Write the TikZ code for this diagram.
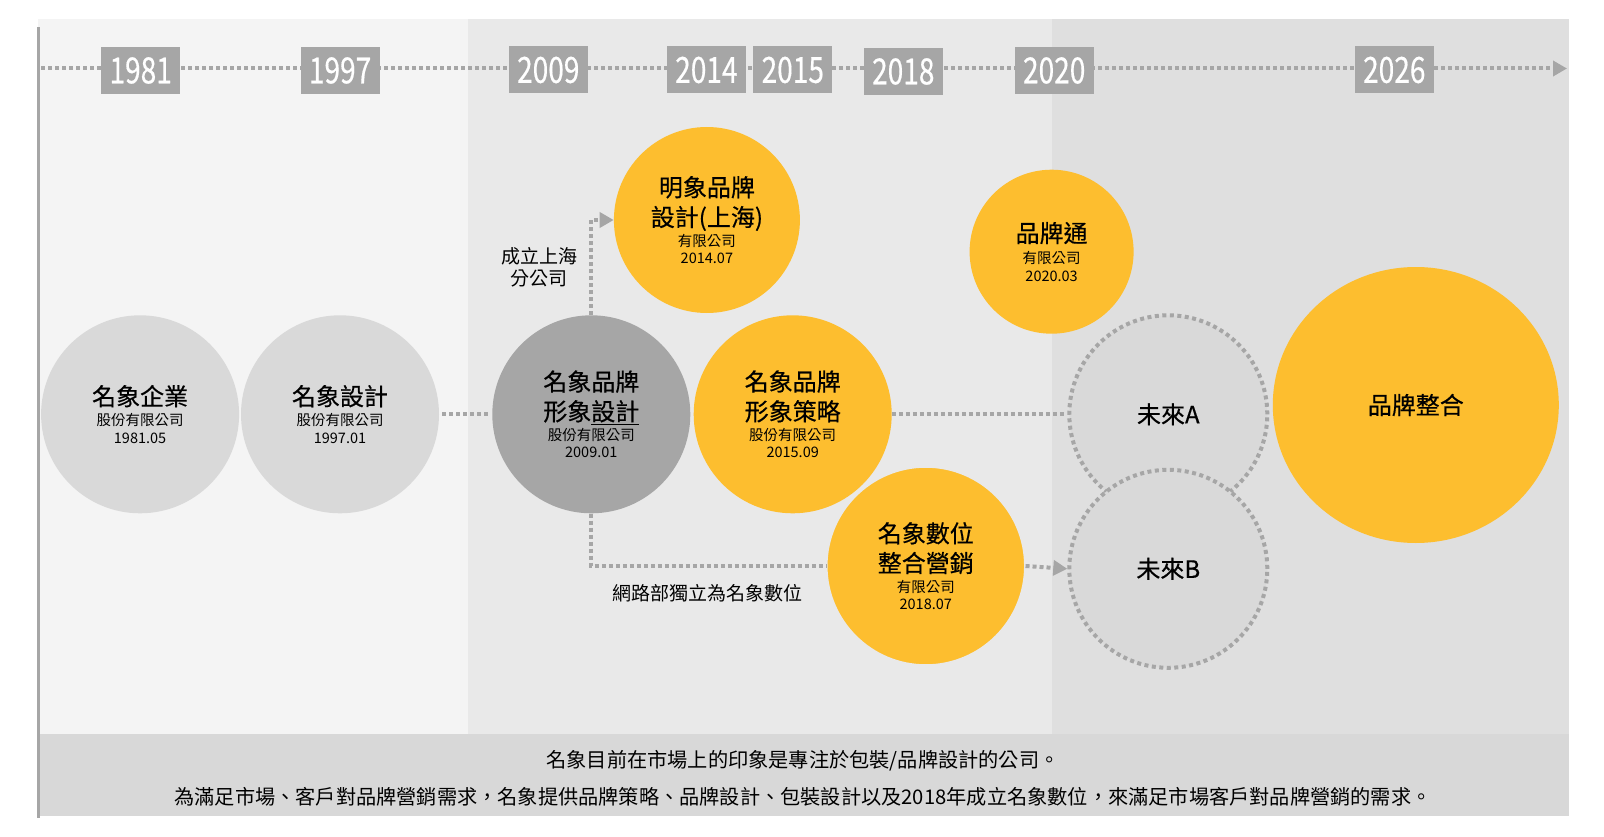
\documentclass[tikz,border=0pt]{standalone}
\usepackage{fontspec}
\setmainfont{Noto Sans CJK TC}
\newfontfamily\ttlfont{Noto Sans CJK TC}[FakeBold=0.5]
\usepackage{graphicx}
\usetikzlibrary{arrows.meta, positioning, shapes.geometric, calc}

\definecolor{paneA}{HTML}{F4F4F4}
\definecolor{paneB}{HTML}{E9E9E9}
\definecolor{paneC}{HTML}{DFDFDF}
\definecolor{bandgray}{HTML}{D8D8D8}
\definecolor{tagray}{HTML}{A6A6A6}
\definecolor{pale}{HTML}{D9D9D9}
\definecolor{gold}{HTML}{FDBE2F}

\newcommand{\ttl}[1]{{\ttlfont\fontsize{24}{30}\selectfont #1}}
\newcommand{\yr}[1]{\scalebox{0.78}[1]{#1}}

\begin{document}
\begin{tikzpicture}[
    x=1pt, y=-1pt,
    font          = \fontsize{14.5}{17.5}\selectfont,
    yearbox/.style = {fill=tagray, text=white, minimum width=79pt,
                      minimum height=47pt, inner sep=0pt,
                      font=\ttlfont\fontsize{36}{36}\selectfont},
    firm/.style   = {circle, minimum size=198pt, inner sep=0pt,
                     align=center},
    future/.style = {firm, fill=pale, draw=tagray, line width=4pt,
                     dash pattern=on 4pt off 3.5pt},
    link/.style   = {draw=tagray, line width=4pt, dash pattern=on 4pt off 3pt},
    arr/.style    = {link, -{Triangle[length=14pt, width=15pt]}},
    note/.style   = {align=center, font=\fontsize{19}{22}\selectfont},
  ]
  \useasboundingbox (0,0) rectangle (1604,837);
  % background panels
  \fill[paneA] (38,19.5) rectangle (467.5,734);
  \fill[paneB] (467.5,19.5) rectangle (1051.5,734);
  \fill[paneC] (1051.5,19.5) rectangle (1569,734);
  \fill[bandgray] (38,733.5) rectangle (1569,815.5);
  \draw[tagray, line width=3pt] (38.5,27.5) -- (38.5,818);

  % timeline
  \coordinate (tstart) at (41,68.5);
  \coordinate (tend) at (1567,68.5);
  \draw[arr] (tstart) -- (tend);
  \node[yearbox] (y1981) at (140.7,70.5) {\yr{1981}};
  \node[yearbox] (y1997) at (340.1,70.5) {\yr{1997}};
  \node[yearbox] (y2009) at (548.3,70) {\yr{2009}};
  \node[yearbox] (y2014) at (706.4,70) {\yr{2014}};
  \node[yearbox] (y2015) at (792.8,70) {\yr{2015}};
  \node[yearbox] (y2018) at (903.3,71.5) {\yr{2018}};
  \node[yearbox] (y2020) at (1054.2,70.5) {\yr{2020}};
  \node[yearbox] (y2026) at (1394.3,70) {\yr{2026}};

  % companies
  \node[firm, fill=pale] (c1981) at (140.1,414.3)
    {\ttl{名象企業}\\[3pt] 股份有限公司\\ 1981.05};
  \node[firm, fill=pale, right=1.5pt of c1981] (c1997)
    {\ttl{名象設計}\\[3pt] 股份有限公司\\ 1997.01};
  \node[firm, fill=tagray] (c2009) at (591.3,414.3)
    {\ttl{名象品牌}\\[6.5pt] \ttl{形象\underline{設計}}\\[2.5pt] 股份有限公司\\ 2009.01};
  \node[firm, fill=gold, right=3pt of c2009] (c2015)
    {\ttl{名象品牌}\\[6.5pt] \ttl{形象策略}\\[2.5pt] 股份有限公司\\ 2015.09};
  \node[firm, fill=gold, minimum size=186pt] (cSH) at (706.9,220)
    {\ttl{明象品牌}\\[6.5pt] \ttl{設計(上海)}\\[2.5pt] 有限公司\\ 2014.07};
  \node[future] (cA) at (1168.3,414.3) {\ttl{未來A}};
  \node[future] (cB) at (1168.3,568.8) {\ttl{未來B}};
  \node[firm, fill=gold, minimum size=164pt] (cBT) at (1051.6,251.7)
    {\ttl{品牌通}\\[4pt] 有限公司\\ 2020.03};
  \node[firm, fill=gold, draw=paneB, line width=1.5pt] (cDG) at (925.8,566)
    {\ttl{名象數位}\\[6.5pt] \ttl{整合營銷}\\[2.5pt] 有限公司\\ 2018.07};
  \node[ellipse, fill=gold, minimum width=286pt, minimum height=276pt,
        inner sep=0pt] (cBI) at (1415.8,405) {\ttl{品牌整合}};

  % links
  \draw[link, shorten <=3pt, shorten >=3pt] (c1997) -- (c2009);
  \draw[link, shorten >=3pt] (c2015) -- (cA);
  \draw[arr] (c2009.north) |- (cSH.west);
  \draw[link] (c2009.south) |- (cDG.west);
  \draw[arr] (cDG.east) -- (cB.west);
  \node[note] (lblSH) at (539,267) {成立上海\\分公司};
  \node[note] (lblDG) at (707,593) {網路部獨立為名象數位};

  % footer
  \node[font=\fontsize{20.2}{24}\selectfont] (foot1) at (803,761)
    {名象目前在市場上的印象是專注於包裝/品牌設計的公司。};
  \node[font=\fontsize{20.2}{24}\selectfont] (foot2) at (803,796.5)
    {為滿足市場、客戶對品牌營銷需求，名象提供品牌策略、品牌設計、包裝設計以及2018年成立名象數位，來滿足市場客戶對品牌營銷的需求。};
\end{tikzpicture}
\end{document}
